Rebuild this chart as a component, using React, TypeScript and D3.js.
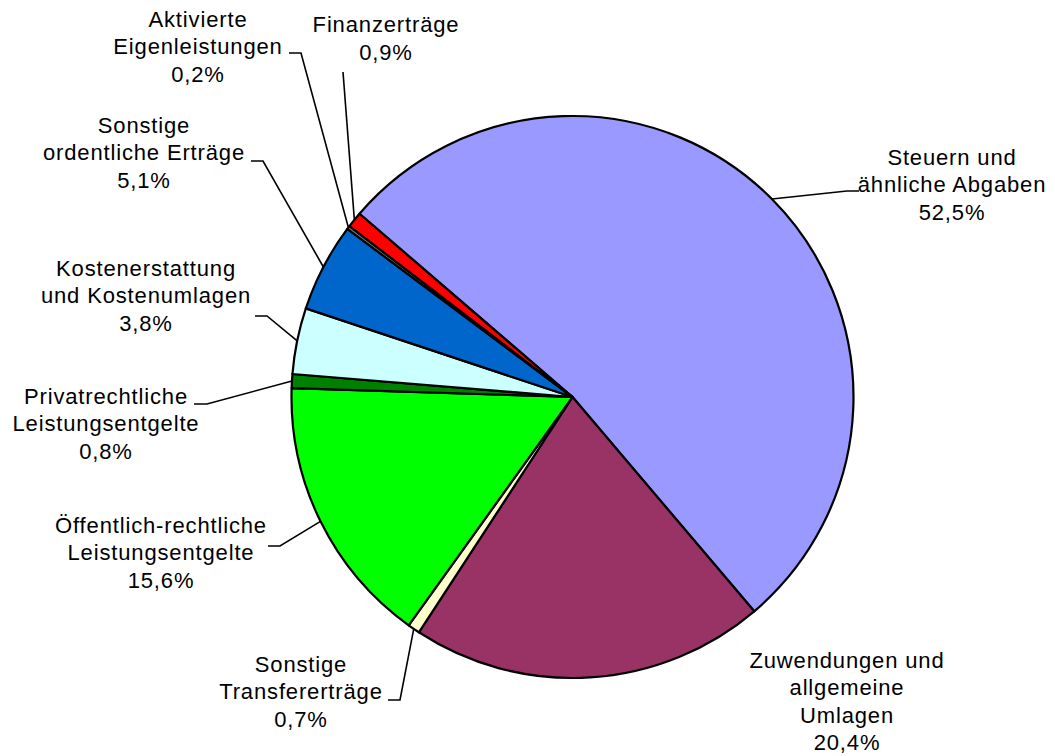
import React from "react";
import * as d3 from "d3";

const categories = [
  "Steuern und ähnliche Abgaben",
  "Zuwendungen und allgemeine Umlagen",
  "Sonstige Transfererträge",
  "Öffentlich-rechtliche Leistungsentgelte",
  "Privatrechtliche Leistungsentgelte",
  "Kostenerstattung und Kostenumlagen",
  "Sonstige ordentliche Erträge",
  "Aktivierte Eigenleistungen",
  "Finanzerträge",
];
const values = [52.5, 20.4, 0.7, 15.6, 0.8, 3.8, 5.1, 0.2, 0.9];
const labelLines = [
  ["Steuern und", "ähnliche Abgaben"],
  ["Zuwendungen und", "allgemeine", "Umlagen"],
  ["Sonstige", "Transfererträge"],
  ["Öffentlich-rechtliche", "Leistungsentgelte"],
  ["Privatrechtliche", "Leistungsentgelte"],
  ["Kostenerstattung", "und Kostenumlagen"],
  ["Sonstige", "ordentliche Erträge"],
  ["Aktivierte", "Eigenleistungen"],
  ["Finanzerträge"],
];
const colors = [
  "#9999FF",
  "#993366",
  "#FFFFCC",
  "#00FF00",
  "#008000",
  "#CCFFFF",
  "#0066CC",
  "#808080",
  "#FF0000",
];

// layout: label center x, first baseline y, leader elbow + end (null = no leader)
const layout: { x: number; y: number; elbow: [number, number] | null; end: [number, number] | null }[] = [
  { x: 952, y: 165, elbow: [847, 191], end: [859, 191] },
  { x: 847, y: 668, elbow: null, end: null },
  { x: 301, y: 672, elbow: [400, 700], end: [388, 700] },
  { x: 161, y: 533, elbow: [280, 546], end: [268, 546] },
  { x: 106, y: 404, elbow: [207, 404], end: [194, 404] },
  { x: 146, y: 276, elbow: [267, 316], end: [255, 316] },
  { x: 144, y: 133, elbow: [263, 161], end: [251, 161] },
  { x: 198, y: 26.7, elbow: [301, 53], end: [289, 53] },
  { x: 386, y: 32.3, elbow: [343, 72], end: [343, 72] },
];

const W = 1055;
const H = 756;
const cx = 572.5;
const cy = 397;
const R = 281;
const startDeg = -49.3;
const lineH = 27.4;

export default function App() {
  const data = values.map((v, i) => ({ v, i }));
  const pie = d3
    .pie<{ v: number; i: number }>()
    .value((d) => d.v)
    .sort(null)
    .startAngle((startDeg * Math.PI) / 180)
    .endAngle(((startDeg + 360) * Math.PI) / 180);
  const arcs = pie(data);
  const arc = d3
    .arc<d3.PieArcDatum<{ v: number; i: number }>>()
    .innerRadius(0)
    .outerRadius(R);
  const fmt = (v: number) => v.toFixed(1).replace(".", ",") + "%";

  return (
    <svg
      width={W}
      height={H}
      style={{ position: "absolute", left: 0, top: 0, background: "#fff" }}
      fontFamily="'Liberation Sans', Arial, Helvetica, sans-serif"
    >
      <g transform={`translate(${cx},${cy})`}>
        {arcs.map((a) => (
          <path
            key={a.data.i}
            d={arc(a) || ""}
            fill={colors[a.data.i]}
            stroke="#000"
            strokeWidth={2.2}
            strokeLinejoin="round"
          />
        ))}
      </g>
      {arcs.map((a) => {
        const L = layout[a.data.i];
        if (!L.elbow || !L.end) return null;
        const mid = (a.startAngle + a.endAngle) / 2;
        const px = cx + R * Math.sin(mid);
        const py = cy - R * Math.cos(mid);
        const pts = [[px, py], L.elbow, L.end];
        return (
          <path
            key={"l" + a.data.i}
            d={d3.line()(pts as [number, number][]) || ""}
            fill="none"
            stroke="#000"
            strokeWidth={1.6}
          />
        );
      })}
      {arcs.map((a) => {
        const L = layout[a.data.i];
        const lines = [...labelLines[a.data.i], fmt(a.data.v)];
        return (
          <text
            key={"t" + a.data.i}
            textAnchor="middle"
            fontSize={22}
            letterSpacing={0.85}
            fill="#000"
          >
            {lines.map((s, k) => (
              <tspan key={k} x={L.x} y={L.y + k * lineH}>
                {s}
              </tspan>
            ))}
          </text>
        );
      })}
    </svg>
  );
}
